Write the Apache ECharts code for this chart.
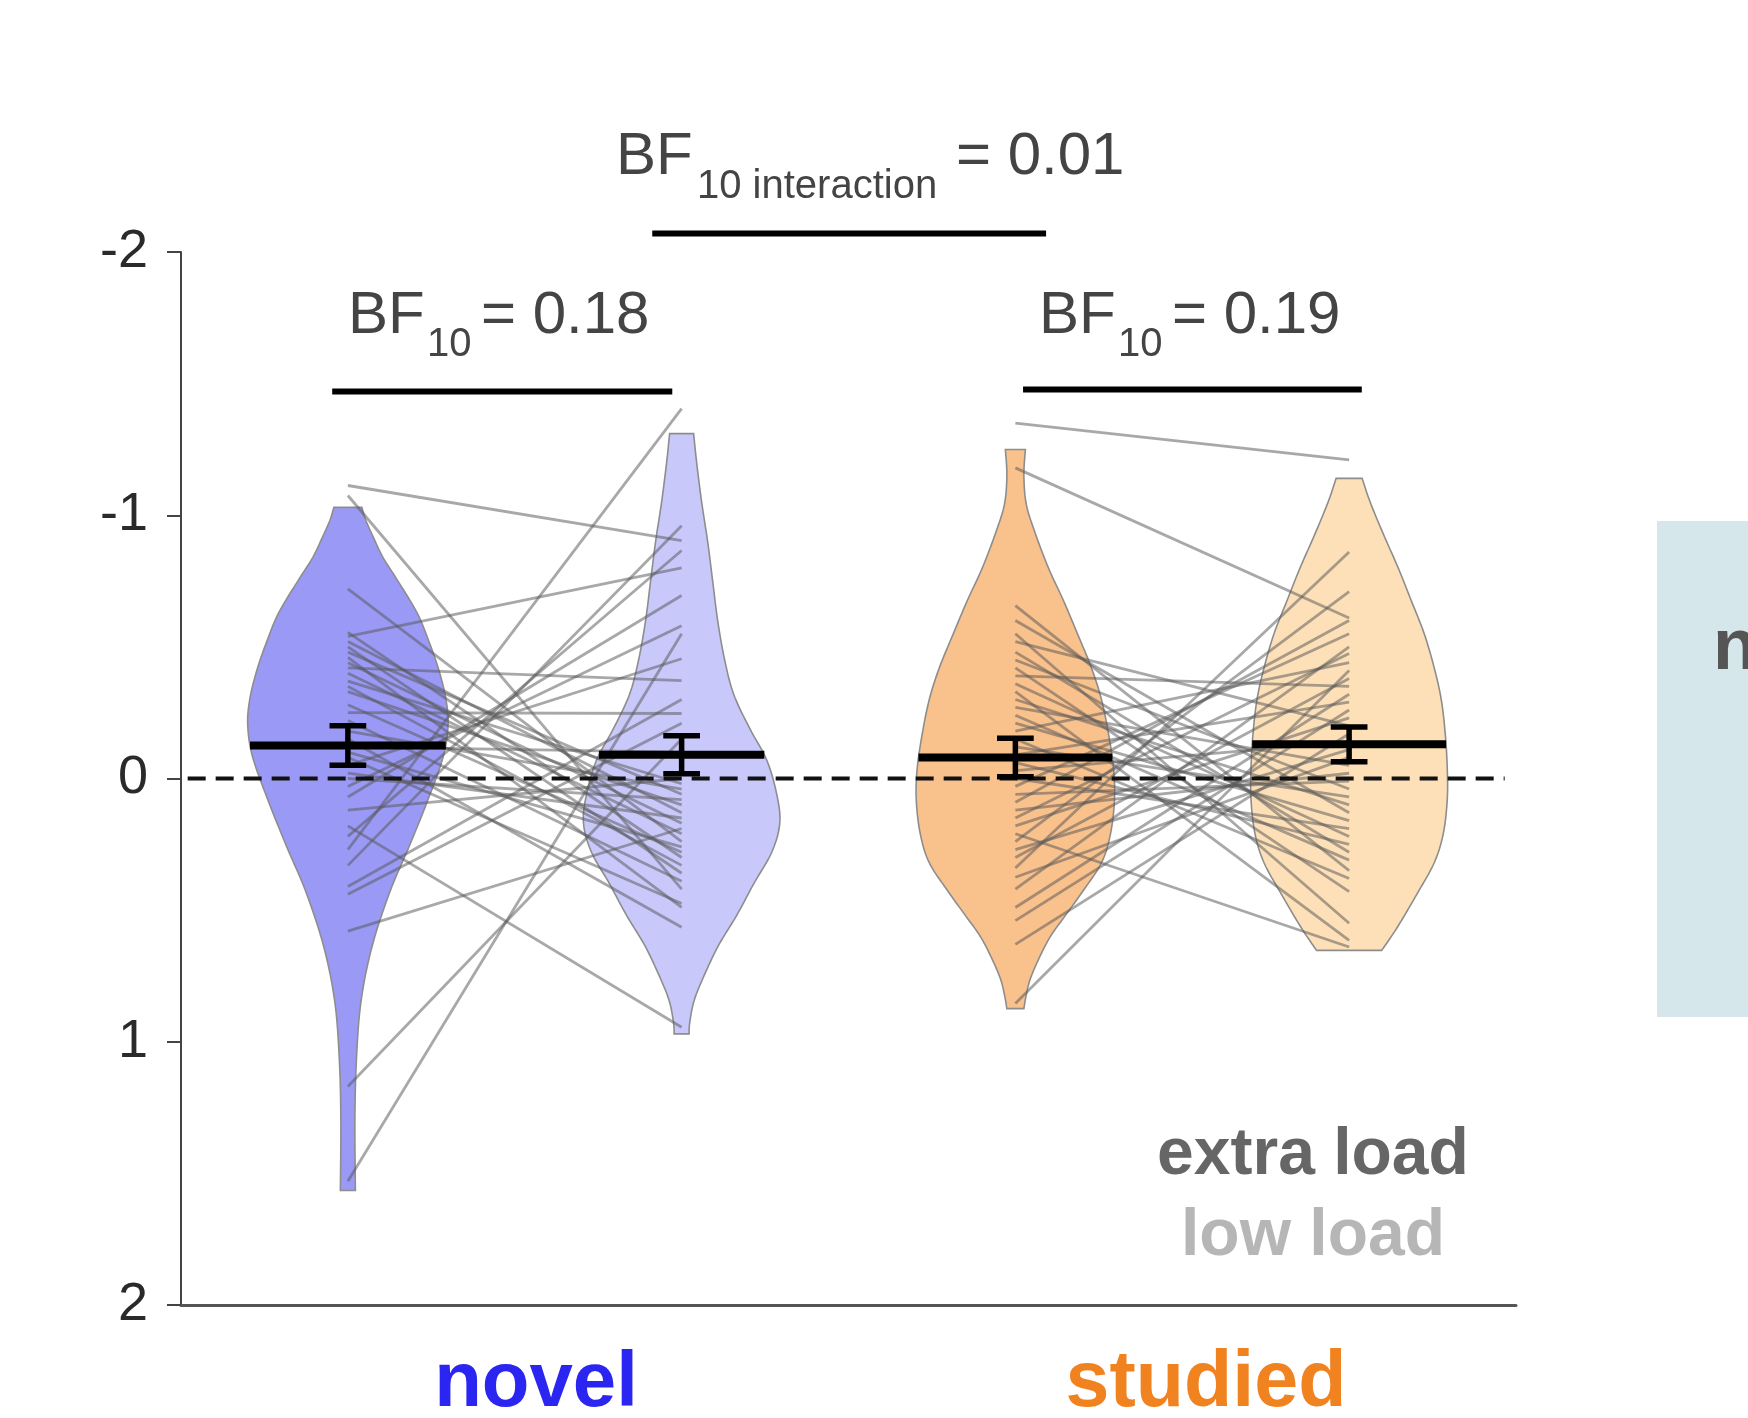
<!DOCTYPE html>
<html>
<head>
<meta charset="utf-8">
<script src="https://cdn.jsdelivr.net/npm/echarts@6/dist/echarts.min.js"></script>
<style>
  html, body { margin: 0; padding: 0; background: #ffffff; }
  #chart { width: 1748px; height: 1418px; }
</style>
</head>
<body>
<div id="chart"></div>
<script>
// ---- data -------------------------------------------------------------
// x positions of the four conditions
const conditionNames = ['novel extra load', 'novel low load', 'studied extra load', 'studied low load'];
const conditionPos = [1, 2, 3, 4];
const groupLabels = ['novel', 'studied'];

// per-subject scores (extra load / low load), paired by index
const novelExtra = [-1.113, -1.075, -0.72, -0.555, -0.54, -0.52, -0.50, -0.48, -0.46, -0.44, -0.42, -0.40, -0.37, -0.35, -0.33, -0.28, -0.25, -0.22, -0.18, -0.15, -0.12, -0.10, -0.08, -0.05, -0.02, 0, 0.03, 0.07, 0.12, 0.18, 0.22, 0.27, 0.33, 0.41, 0.44, 0.58, 1.17, 1.53];
const novelLow   = [-0.904, 0.42, 0.24, 0.30, -0.80, 0.13, 0.36, 0.06, 0.49, 0.17, -0.372, 0.21, 0.02, 0.33, 0.10, 0.28, -0.247, 0.39, 0.04, 0.565, -0.10, 0.26, 0.475, -0.455, 0.15, 0.08, -0.58, -0.695, 0.0, 0.945, -0.866, -1.405, -0.96, -0.30, -0.21, 0.19, -0.15, -0.55];

const studiedExtra = [-1.35, -1.18, -0.657, -0.60, -0.55, -0.52, -0.48, -0.45, -0.42, -0.39, -0.36, -0.33, -0.30, -0.27, -0.24, -0.21, -0.18, -0.15, -0.12, -0.09, -0.06, -0.03, 0.0, 0.03, 0.06, 0.09, 0.12, 0.15, 0.18, 0.21, 0.24, 0.27, 0.30, 0.34, 0.375, 0.42, 0.49, 0.54, 0.63, 0.855];
const studiedLow   = [-1.21, -0.61, 0.35, 0.13, 0.55, -0.20, 0.28, 0.04, 0.43, -0.35, 0.22, 0.615, 0.10, -0.05, 0.31, 0.16, -0.44, 0.38, 0.07, -0.29, 0.25, -0.14, 0.19, -0.55, 0.01, -0.60, -0.02, -0.475, -0.23, 0.64, -0.71, -0.11, -0.38, -0.86, -0.08, -0.50, -0.32, -0.26, -0.17, -0.41];

// condition means and standard errors
const condMeans = [-0.125, -0.09, -0.08, -0.13];
const condSem   = [0.075, 0.072, 0.073, 0.066];

// kernel density profiles: [score, relative density]
const densityNovelExtra = [[-1.03, 0.14], [-0.98, 0.18], [-0.92, 0.25], [-0.84, 0.35], [-0.75, 0.50], [-0.63, 0.69], [-0.52, 0.81], [-0.41, 0.91], [-0.30, 0.98], [-0.20, 1.0], [-0.08, 0.95], [0.09, 0.79], [0.26, 0.61], [0.43, 0.42], [0.64, 0.24], [0.85, 0.13], [1.07, 0.085], [1.30, 0.07], [1.565, 0.075]];
const densityNovelLow = [[-1.31, 0.12], [-1.20, 0.15], [-1.05, 0.20], [-0.90, 0.26], [-0.75, 0.31], [-0.60, 0.36], [-0.45, 0.43], [-0.32, 0.52], [-0.19, 0.68], [-0.07, 0.85], [0.06, 0.95], [0.17, 0.98], [0.28, 0.90], [0.40, 0.72], [0.52, 0.55], [0.64, 0.36], [0.77, 0.20], [0.85, 0.12], [0.93, 0.08], [0.97, 0.075]];
const densityStudiedExtra = [[-1.25, 0.10], [-1.15, 0.085], [-1.04, 0.11], [-0.93, 0.20], [-0.80, 0.33], [-0.676, 0.48], [-0.55, 0.62], [-0.42, 0.76], [-0.30, 0.86], [-0.17, 0.93], [-0.04, 0.98], [0.08, 0.99], [0.21, 0.95], [0.32, 0.86], [0.43, 0.67], [0.52, 0.50], [0.60, 0.35], [0.68, 0.24], [0.76, 0.15], [0.82, 0.11], [0.874, 0.085]];
const densityStudiedLow = [[-1.14, 0.13], [-1.05, 0.21], [-0.93, 0.34], [-0.80, 0.49], [-0.676, 0.62], [-0.55, 0.75], [-0.42, 0.85], [-0.30, 0.92], [-0.17, 0.96], [-0.04, 0.98], [0.08, 0.98], [0.21, 0.94], [0.32, 0.85], [0.437, 0.68], [0.566, 0.48], [0.653, 0.325]];

// Bayes factor comparisons: [from x, to x, bar level]
const bfNovel = [0.953, 1.972, -1.47];
const bfStudied = [3.023, 4.038, -1.478];
const bfInteraction = [1.912, 3.092, -2.07];
const bfValues = ['0.18', '0.19', '0.01'];

// axes
const yMin = -2, yMax = 2, yStep = 1;
const xMin = 0.5, xMax = 4.5;
const zeroLineEnd = 4.466;

// ---- styling ----------------------------------------------------------
const FONT = '"Liberation Sans", Arial, Helvetica, sans-serif';
const violinFill = ['#9a9af6', '#c8c8fb', '#f9c18c', '#fde0b8'];
const VIOLIN_HALF = 0.3;      // half width (x units) at density 1
const CAP_HALF = 0.055;

const profiles = [densityNovelExtra, densityNovelLow, densityStudiedExtra, densityStudiedLow];

// Catmull-Rom resampling of a density profile for a smooth outline
function cr(a, b, c, d, t) {
  return 0.5 * (2 * b + (-a + c) * t + (2 * a - 5 * b + 4 * c - d) * t * t + (-a + 3 * b - 3 * c + d) * t * t * t);
}
function smoothProfile(pts, steps) {
  const out = [];
  for (let i = 0; i < pts.length - 1; i++) {
    const p0 = pts[Math.max(i - 1, 0)], p1 = pts[i], p2 = pts[i + 1], p3 = pts[Math.min(i + 2, pts.length - 1)];
    for (let s = 0; s < steps; s++) {
      const t = s / steps;
      out.push([cr(p0[0], p1[0], p2[0], p3[0], t), Math.max(0.02, cr(p0[1], p1[1], p2[1], p3[1], t))]);
    }
  }
  out.push(pts[pts.length - 1]);
  return out;
}
const smoothProfiles = profiles.map(p => smoothProfile(p, 10));

function densityAt(curve, v) {
  for (let i = 0; i < curve.length - 1; i++) {
    const a = curve[i], b = curve[i + 1];
    if (v >= a[0] && v <= b[0]) {
      const t = (v - a[0]) / (b[0] - a[0] || 1);
      return a[1] + (b[1] - a[1]) * t;
    }
  }
  return 0;
}

// ---- series data -------------------------------------------------------
const violinData = conditionPos.map((p, i) => [p, i]);

const pairData = [];
novelExtra.forEach((v, i) => pairData.push([conditionPos[0], v, conditionPos[1], novelLow[i]]));
studiedExtra.forEach((v, i) => pairData.push([conditionPos[2], v, conditionPos[3], studiedLow[i]]));

const meanData = conditionPos.map((p, i) => [p, condMeans[i], condSem[i], densityAt(smoothProfiles[i], condMeans[i]) * VIOLIN_HALF]);

const barData = [bfNovel, bfStudied, bfInteraction];

// ---- render helpers -----------------------------------------------------
function renderViolin(params, api) {
  const pos = api.value(0);
  const curve = smoothProfiles[api.value(1)];
  const pts = [];
  curve.forEach(([v, d]) => pts.push(api.coord([pos + d * VIOLIN_HALF, v])));
  for (let i = curve.length - 1; i >= 0; i--) {
    const [v, d] = curve[i];
    pts.push(api.coord([pos - d * VIOLIN_HALF, v]));
  }
  return {
    type: 'polygon',
    shape: { points: pts },
    style: { fill: violinFill[api.value(1)], stroke: '#8d8d8d', lineWidth: 1.6 }
  };
}

function renderPair(params, api) {
  const a = api.coord([api.value(0), api.value(1)]);
  const b = api.coord([api.value(2), api.value(3)]);
  return {
    type: 'line',
    shape: { x1: a[0], y1: a[1], x2: b[0], y2: b[1] },
    style: { stroke: 'rgba(88,88,88,0.52)', lineWidth: 2.8 }
  };
}

function renderMean(params, api) {
  const pos = api.value(0), m = api.value(1), se = api.value(2), hw = api.value(3);
  const l = api.coord([pos - hw, m]), r = api.coord([pos + hw, m]);
  const top = api.coord([pos, m - se]), bot = api.coord([pos, m + se]);
  const cl = api.coord([pos - CAP_HALF, m]), cr2 = api.coord([pos + CAP_HALF, m]);
  const st = { stroke: '#000', lineWidth: 5.5 };
  return {
    type: 'group',
    children: [
      { type: 'line', shape: { x1: l[0], y1: l[1], x2: r[0], y2: r[1] }, style: { stroke: '#000', lineWidth: 8 } },
      { type: 'line', shape: { x1: top[0], y1: top[1], x2: bot[0], y2: bot[1] }, style: st },
      { type: 'line', shape: { x1: cl[0], y1: top[1], x2: cr2[0], y2: top[1] }, style: st },
      { type: 'line', shape: { x1: cl[0], y1: bot[1], x2: cr2[0], y2: bot[1] }, style: st }
    ]
  };
}

function renderBar(params, api) {
  const a = api.coord([api.value(0), api.value(2)]);
  const b = api.coord([api.value(1), api.value(2)]);
  return {
    type: 'line',
    shape: { x1: a[0], y1: a[1], x2: b[0], y2: b[1] },
    style: { stroke: '#000', lineWidth: 6 }
  };
}

function renderZero(params, api) {
  const a = api.coord([api.value(0), 0]);
  const b = api.coord([api.value(1), 0]);
  return {
    type: 'line',
    shape: { x1: a[0], y1: a[1], x2: b[0], y2: b[1] },
    style: { stroke: '#111', lineWidth: 4, lineDash: [18, 10] }
  };
}

// text placed by baseline
function txt(x, baseline, str, size, color, weight, align) {
  return {
    type: 'text', x: x, y: baseline - 0.35 * size, silent: true,
    style: {
      text: str, font: (weight || 'normal') + ' ' + size + 'px ' + FONT,
      fill: color, align: align || 'left', verticalAlign: 'middle'
    }
  };
}

const TXT = '#444444';
const graphics = [
  // neighbouring panel edge
  { type: 'rect', shape: { x: 1657, y: 521, width: 100, height: 496 }, style: { fill: '#d5e7ea' }, silent: true },
  txt(1713, 674, 'n', 72, '#555555', 'bold'),
  // Bayes factor labels
  txt(616, 178, 'BF', 60, TXT), txt(697, 201, '10 interaction', 40, TXT), txt(956, 178, '= ' + bfValues[2], 60, TXT),
  txt(348, 337, 'BF', 60, TXT), txt(427, 359, '10', 40, TXT), txt(481, 337, '= ' + bfValues[0], 60, TXT),
  txt(1039, 337, 'BF', 60, TXT), txt(1118, 359, '10', 40, TXT), txt(1172, 337, '= ' + bfValues[1], 60, TXT),
  // load legend
  txt(1313, 1179, 'extra load', 66, '#666666', 'bold', 'center'),
  txt(1313, 1260, 'low load', 66, '#b6b6b6', 'bold', 'center'),
  // group names
  txt(536, 1412, groupLabels[0], 78, '#2b25f2', 'bold', 'center'),
  txt(1206, 1412, groupLabels[1], 79, '#f08220', 'bold', 'center')
];

const chart = echarts.init(document.getElementById('chart'), null, { renderer: 'canvas' });
chart.setOption({
  backgroundColor: '#ffffff',
  animation: false,
  grid: { left: 181, right: 232, top: 252, bottom: 113 },
  xAxis: {
    type: 'value', min: xMin, max: xMax,
    axisLine: { show: true, onZero: false, lineStyle: { color: '#555', width: 3 } },
    axisTick: { show: false }, axisLabel: { show: false }, splitLine: { show: false }
  },
  yAxis: {
    type: 'value', inverse: true, min: yMin, max: yMax, interval: yStep,
    axisLine: { show: true, onZero: false, lineStyle: { color: '#444', width: 2 } },
    axisTick: { show: true, inside: false, length: 14, lineStyle: { color: '#444', width: 2 } },
    axisLabel: { margin: 33, fontSize: 54, fontFamily: FONT, color: '#2a2a2a' },
    splitLine: { show: false }
  },
  series: [
    { type: 'custom', name: 'violins', z: 1, silent: true, clip: false,
      encode: { x: 0, y: -1 }, renderItem: renderViolin, data: violinData },
    { type: 'custom', name: 'subjects', z: 2, silent: true, clip: false,
      encode: { x: [0, 2], y: [1, 3] }, renderItem: renderPair, data: pairData },
    { type: 'custom', name: 'zero', z: 3, silent: true, clip: false,
      encode: { x: [0, 1] }, renderItem: renderZero, data: [[xMin + 0.02, zeroLineEnd]] },
    { type: 'custom', name: 'means', z: 4, silent: true, clip: false,
      encode: { x: 0, y: 1 }, renderItem: renderMean, data: meanData },
    { type: 'custom', name: 'bayes bars', z: 4, silent: true, clip: false,
      encode: { x: [0, 1], y: 2 }, renderItem: renderBar, data: barData }
  ],
  graphic: graphics
});
</script>
</body>
</html>
